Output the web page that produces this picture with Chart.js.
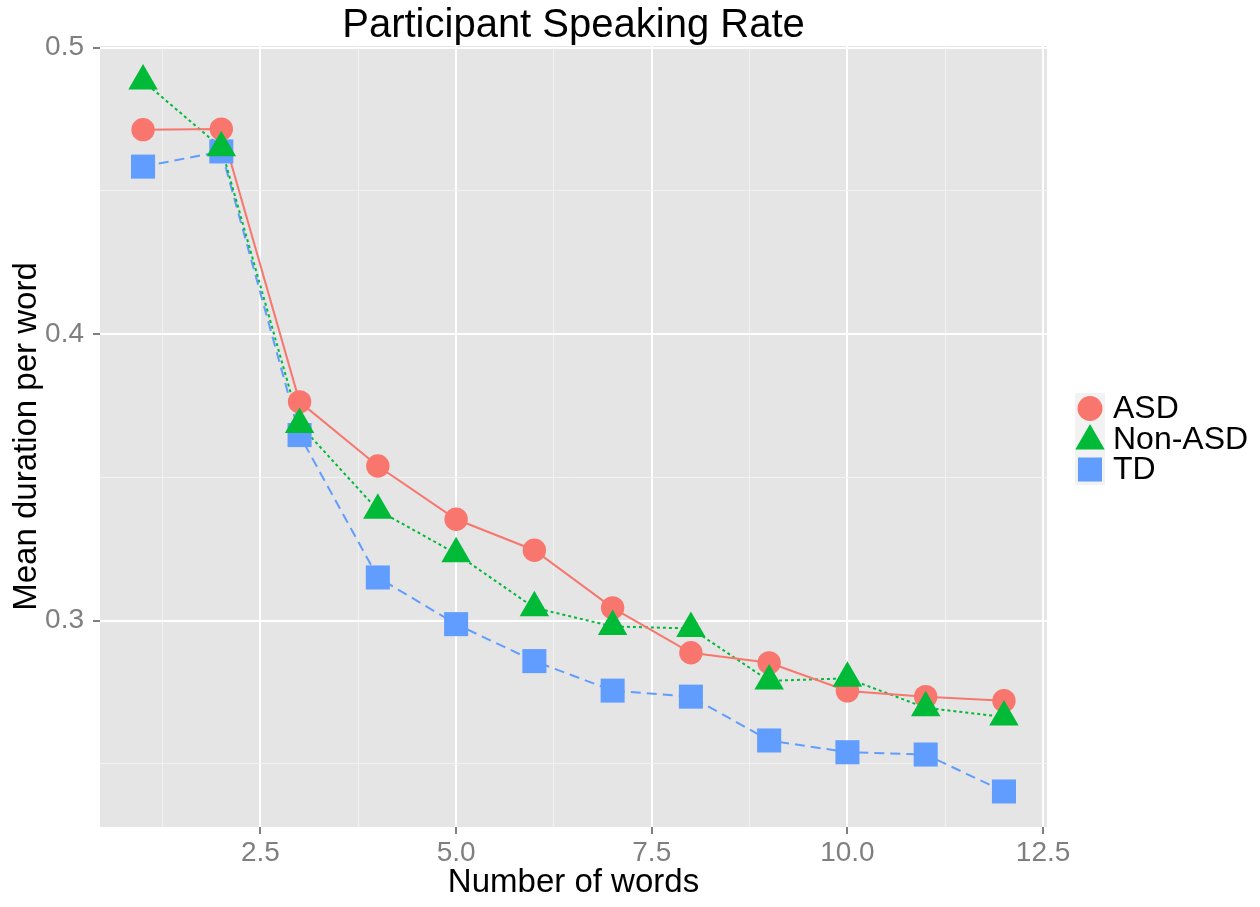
<!DOCTYPE html>
<html>
<head>
<meta charset="utf-8">
<script src="https://cdn.jsdelivr.net/npm/chart.js"></script>
<style>
  body { margin: 0; background: #ffffff; }
  #wrap { width: 1260px; height: 907px; }
</style>
</head>
<body>
<div id="wrap"><canvas id="rateChart" width="1260" height="907"></canvas></div>
<script>
// data
var words = [1, 2, 3, 4, 5, 6, 7, 8, 9, 10, 11, 12];
var asd = [0.4714, 0.4716, 0.3764, 0.3540, 0.3354, 0.3246, 0.3045, 0.2888, 0.2853, 0.2755, 0.2735, 0.2721];
var nonAsd = [0.4884, 0.4651, 0.3685, 0.3386, 0.3234, 0.3045, 0.2980, 0.2973, 0.2790, 0.2799, 0.2696, 0.2664];
var td = [0.4585, 0.4638, 0.3648, 0.3151, 0.2988, 0.2859, 0.2756, 0.2735, 0.2582, 0.2541, 0.2533, 0.2404];

var groupNames = ["ASD", "Non-ASD", "TD"];
var xTicks = [1.25, 2.5, 3.75, 5.0, 6.25, 7.5, 8.75, 10.0, 11.25, 12.5];
var xMajor = [2.5, 5.0, 7.5, 10.0, 12.5];
var yTicks = [0.25, 0.3, 0.35, 0.4, 0.45, 0.5];
var yMajor = [0.3, 0.4, 0.5];
var chartTitle = "Participant Speaking Rate";

var FONT = "'Liberation Sans', Arial, Helvetica, sans-serif";

function pts(ys) {
    return words.map(function (w, i) { return { x: w, y: ys[i] }; });
}
function isMajor(list, v) {
    return list.some(function (m) { return Math.abs(m - v) < 1e-9; });
}

var series = [
    { name: groupNames[0], values: asd, color: "#F8766D", shape: "circle", radius: 11.7, dash: [], order: 2 },
    { name: groupNames[1], values: nonAsd, color: "#00BA38", shape: "triangle", radius: 17, dash: [3, 3], order: 0 },
    { name: groupNames[2], values: td, color: "#619CFF", shape: "rect", radius: 17, dash: [10, 6], order: 1 }
];

var datasets = [];
// lines first (underneath every point)
series.forEach(function (s) {
    datasets.push({
        label: s.name + " line",
        data: pts(s.values),
        showLine: true,
        borderColor: s.color,
        borderWidth: 2,
        borderDash: s.dash,
        pointRadius: 0,
        fill: false,
        order: 10
    });
});
series.forEach(function (s) {
    datasets.push({
        label: s.name,
        data: pts(s.values),
        showLine: false,
        pointStyle: s.shape,
        pointRadius: s.radius,
        pointBackgroundColor: s.color,
        pointBorderColor: s.color,
        pointBorderWidth: 0,
        order: s.order
    });
});

// grey panel behind the plot
var panelBg = {
    id: "panelBg",
    beforeDraw: function (chart) {
        var a = chart.chartArea, ctx = chart.ctx;
        ctx.save();
        ctx.fillStyle = "#E5E5E5";
        ctx.fillRect(a.left, a.top, a.right - a.left, a.bottom - a.top);
        ctx.restore();
    }
};

// title centred over the panel, not the whole canvas
var panelTitle = {
    id: "panelTitle",
    afterDraw: function (chart) {
        var a = chart.chartArea, ctx = chart.ctx;
        ctx.save();
        ctx.fillStyle = "#000000";
        ctx.font = "40px " + FONT;
        ctx.textAlign = "center";
        ctx.textBaseline = "alphabetic";
        ctx.fillText(chartTitle, (a.left + a.right) / 2, 37);
        ctx.restore();
    }
};

function drawShape(ctx, shape, x, y, r, color) {
    ctx.fillStyle = color;
    ctx.beginPath();
    if (shape === "circle") {
        ctx.arc(x, y, r, 0, Math.PI * 2);
    } else if (shape === "triangle") {
        ctx.moveTo(x, y - r);
        ctx.lineTo(x + r * Math.sin(2 * Math.PI / 3), y - r * Math.cos(2 * Math.PI / 3));
        ctx.lineTo(x + r * Math.sin(4 * Math.PI / 3), y - r * Math.cos(4 * Math.PI / 3));
        ctx.closePath();
    } else {
        var h = r * Math.SQRT1_2;
        ctx.rect(x - h, y - h, 2 * h, 2 * h);
    }
    ctx.fill();
}

// ggplot style legend on the right
var sideLegend = {
    id: "sideLegend",
    afterDraw: function (chart) {
        var ctx = chart.ctx;
        var keyX = 1090, textX = 1113, firstY = 408.5, step = 30.5;
        ctx.save();
        series.forEach(function (s, i) {
            var cy = firstY + i * step;
            ctx.fillStyle = "#F2F2F2";
            ctx.fillRect(keyX - 15, cy - 15.5, 30, 31);
        });
        series.forEach(function (s, i) {
            var cy = firstY + i * step;
            var r = s.shape === "circle" ? 12.5 : s.radius;
            var yy = s.shape === "triangle" ? cy + 2 : cy;
            drawShape(ctx, s.shape, keyX, yy, r, s.color);
            ctx.fillStyle = "#000000";
            ctx.font = "32px " + FONT;
            ctx.textAlign = "left";
            ctx.textBaseline = "middle";
            ctx.fillText(s.name, textX, cy + 1);
        });
        ctx.restore();
    }
};

new Chart("rateChart", {
    type: "scatter",
    data: { datasets: datasets },
    options: {
        responsive: false,
        animation: false,
        events: [],
        layout: { padding: { left: 0, right: 213, top: 46, bottom: 0 } },
        plugins: {
            legend: { display: false },
            tooltip: { enabled: false },
            title: { display: false }
        },
        scales: {
            x: {
                type: "linear",
                min: 0.45,
                max: 12.55,
                afterBuildTicks: function (scale) {
                    scale.ticks = xTicks.map(function (v) { return { value: v }; });
                },
                afterFit: function (scale) { scale.height = 80; },
                border: { display: false },
                grid: {
                    color: function (c) { return isMajor(xMajor, c.tick.value) ? "#FFFFFF" : "#F2F2F2"; },
                    lineWidth: function (c) { return isMajor(xMajor, c.tick.value) ? 2 : 1; },
                    tickColor: function (c) { return isMajor(xMajor, c.tick.value) ? "#7F7F7F" : "rgba(0,0,0,0)"; },
                    tickWidth: 2,
                    tickLength: 7,
                    drawTicks: true
                },
                ticks: {
                    autoSkip: false,
                    maxRotation: 0,
                    padding: 2,
                    color: "#7F7F7F",
                    font: { family: FONT, size: 28 },
                    callback: function (v) { return isMajor(xMajor, v) ? v.toFixed(1) : ""; }
                },
                title: {
                    display: true,
                    text: "Number of words",
                    color: "#000000",
                    font: { family: FONT, size: 33 },
                    padding: { top: 0, bottom: 4 }
                }
            },
            y: {
                type: "linear",
                min: 0.228,
                max: 0.5006,
                afterBuildTicks: function (scale) {
                    scale.ticks = yTicks.map(function (v) { return { value: v }; });
                },
                afterFit: function (scale) { scale.width = 100; },
                border: { display: false },
                grid: {
                    color: function (c) { return isMajor(yMajor, c.tick.value) ? "#FFFFFF" : "#F2F2F2"; },
                    lineWidth: function (c) { return isMajor(yMajor, c.tick.value) ? 2 : 1; },
                    tickColor: function (c) { return isMajor(yMajor, c.tick.value) ? "#7F7F7F" : "rgba(0,0,0,0)"; },
                    tickWidth: 2,
                    tickLength: 7,
                    drawTicks: true
                },
                ticks: {
                    autoSkip: false,
                    padding: 9,
                    color: "#7F7F7F",
                    font: { family: FONT, size: 28 },
                    callback: function (v) { return isMajor(yMajor, v) ? v.toFixed(1) : ""; }
                },
                title: {
                    display: true,
                    text: "Mean duration per word",
                    color: "#000000",
                    font: { family: FONT, size: 33 },
                    padding: { top: 7, bottom: 0 }
                }
            }
        }
    },
    plugins: [panelBg, panelTitle, sideLegend]
});
</script>
</body>
</html>
